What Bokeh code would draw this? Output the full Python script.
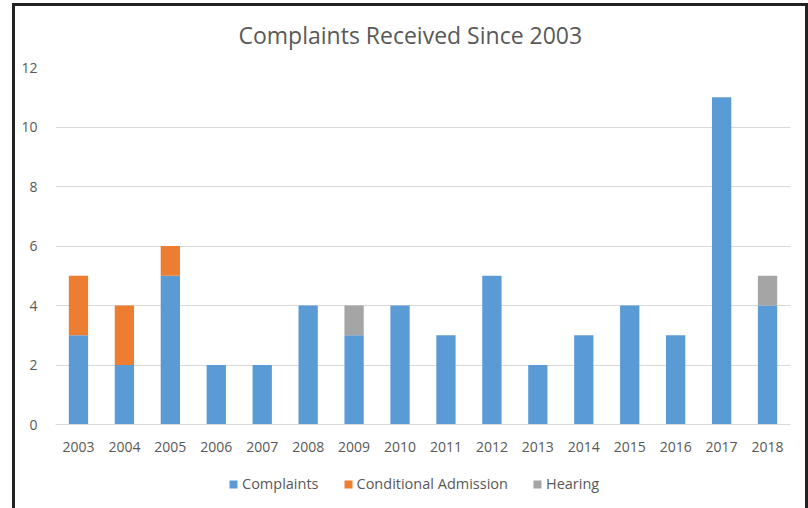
from bokeh.plotting import figure
from bokeh.models import Legend, FactorRange, Range1d, FixedTicker
from bokeh.embed import file_html
from bokeh.resources import INLINE

years = ["2003", "2004", "2005", "2006", "2007", "2008", "2009", "2010",
         "2011", "2012", "2013", "2014", "2015", "2016", "2017", "2018"]
complaints = [3, 2, 5, 2, 2, 4, 3, 4, 3, 5, 2, 3, 4, 3, 11, 4]
conditional = [2, 2, 1, 0, 0, 0, 0, 0, 0, 0, 0, 0, 0, 0, 0, 0]
hearing = [0, 0, 0, 0, 0, 0, 1, 0, 0, 0, 0, 0, 0, 0, 0, 1]
series = ["Complaints", "Conditional Admission", "Hearing"]
colors = ["#5B9BD5", "#ED7D31", "#A5A5A5"]
y_ticks = [0, 2, 4, 6, 8, 10, 12]

FONT = "Open Sans"
TXT = "#595959"

# layout: frame from y=67 (value 12) to y=424 (value 0), extended to the canvas
# bottom so the legend (inside the frame) is not clipped
FRAME_TOP, ZERO_Y, H = 67, 424, 508
y_min = -12 * (H - ZERO_Y) / (ZERO_Y - FRAME_TOP)

p = figure(x_range=FactorRange(factors=years, range_padding=0),
           y_range=Range1d(y_min, 12),
           width=808, height=H, output_backend="svg", toolbar_location=None,
           min_border_left=55, min_border_right=18, min_border_top=FRAME_TOP,
           min_border_bottom=0)
p.border_fill_color = None
p.background_fill_color = None
p.styles = {"box-shadow": ("inset 12px 0 0 0 #ffffff, inset 0 3px 0 0 #ffffff, "
                           "inset 15px 0 0 0 #222222, inset 0 6px 0 0 #222222, "
                           "inset -3px 0 0 0 #222222")}

data = {"years": years, "Complaints": complaints,
        "Conditional Admission": conditional, "Hearing": hearing}
r = p.vbar_stack(series, x="years", width=0.42, color=colors, source=data,
                 line_color=None)

p.title.text = "Complaints Received Since 2003"
p.title.text_font = FONT
p.title.text_font_size = "23px"
p.title.text_font_style = "normal"
p.title.text_color = TXT
p.title.align = "left"
p.title.vertical_align = "top"
p.title.offset = 183
p.title.standoff = 30

p.outline_line_color = None
p.xgrid.grid_line_color = None
p.ygrid.grid_line_color = "#D9D9D9"
p.ygrid.ticker = FixedTicker(ticks=y_ticks)
p.yaxis.ticker = FixedTicker(ticks=y_ticks)

for ax in (p.xaxis[0], p.yaxis[0]):
    ax.major_tick_line_color = None
    ax.minor_tick_line_color = None
    ax.major_label_text_font = FONT
    ax.major_label_text_font_size = "14px"
    ax.major_label_text_color = TXT
p.yaxis.axis_line_color = None
p.xaxis.axis_line_color = "#D9D9D9"
p.xaxis.fixed_location = 0
p.yaxis.major_label_standoff = 12
p.xaxis.major_label_standoff = 11

legend = Legend(items=[(s, [g]) for s, g in zip(series, r)],
                orientation="horizontal", location=(173, 15),
                glyph_width=10, glyph_height=10, label_standoff=4, spacing=24,
                label_text_font=FONT, label_text_font_size="14.5px",
                label_text_color=TXT, border_line_color=None,
                background_fill_alpha=0, padding=0, margin=0,
                label_height=14)
p.add_layout(legend, "center")

open("out.html", "w").write(file_html(p, INLINE))
